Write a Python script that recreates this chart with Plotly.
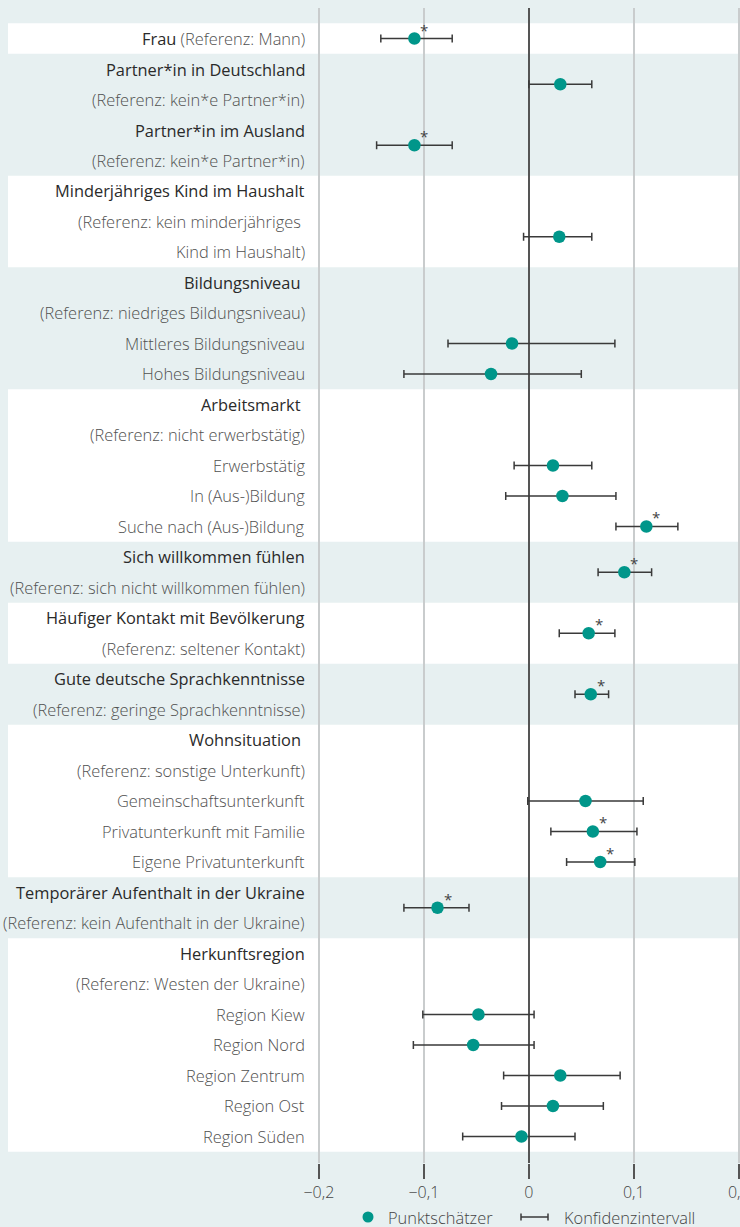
import plotly.graph_objects as go

# row labels, top to bottom; groups alternate white / tinted bands
GROUP_SIZES = [1, 4, 3, 4, 5, 2, 2, 2, 5, 2, 7]
ROW_LABELS = [
    'Frau', 'Partner*in in Deutschland', '(Referenz: kein*e Partner*in)',
    'Partner*in im Ausland', '(Referenz: kein*e Partner*in)',
    'Minderjähriges Kind im Haushalt', '(Referenz: kein minderjähriges\u00a0', 'Kind im Haushalt)',
    'Bildungsniveau\u00a0', '(Referenz: niedriges Bildungsniveau)', 'Mittleres Bildungsniveau', 'Hohes Bildungsniveau',
    'Arbeitsmarkt\u00a0', '(Referenz: nicht erwerbstätig)', 'Erwerbstätig', 'In (Aus-)Bildung', 'Suche nach (Aus-)Bildung',
    'Sich willkommen fühlen', '(Referenz: sich nicht willkommen fühlen)',
    'Häufiger Kontakt mit Bevölkerung', '(Referenz: seltener Kontakt)',
    'Gute deutsche Sprachkenntnisse', '(Referenz: geringe Sprachkenntnisse)',
    'Wohnsituation\u00a0', '(Referenz: sonstige Unterkunft)', 'Gemeinschaftsunterkunft',
    'Privatunterkunft mit Familie', 'Eigene Privatunterkunft',
    'Temporärer Aufenthalt in der Ukraine', '(Referenz: kein Aufenthalt in der Ukraine)',
    'Herkunftsregion', '(Referenz: Westen der Ukraine)', 'Region Kiew', 'Region Nord',
    'Region Zentrum', 'Region Ost', 'Region Süden',
]
HEADER_ROWS = [0, 1, 3, 5, 8, 12, 17, 19, 21, 23, 28, 30]
FRAU_SUFFIX = '(Referenz: Mann)'

# estimates: label rows each one belongs to
EST_ROWS = [(0,), (1, 2), (3, 4), (6, 7), (10,), (11,), (14,), (15,), (16,),
            (17, 18), (19, 20), (21, 22), (25,), (26,), (27,), (28, 29),
            (32,), (33,), (34,), (35,), (36,)]
COEF = [-0.109, 0.030, -0.109, 0.029, -0.016, -0.036, 0.023, 0.032, 0.112,
        0.091, 0.057, 0.059, 0.054, 0.061, 0.068, -0.087,
        -0.048, -0.053, 0.030, 0.023, -0.007]
CI_LOW = [-0.141, 0.000, -0.145, -0.005, -0.077, -0.119, -0.014, -0.022, 0.083,
          0.066, 0.029, 0.044, -0.001, 0.021, 0.036, -0.119,
          -0.101, -0.110, -0.024, -0.026, -0.063]
CI_HIGH = [-0.073, 0.060, -0.073, 0.060, 0.082, 0.050, 0.060, 0.083, 0.142,
           0.117, 0.082, 0.076, 0.109, 0.103, 0.101, -0.057,
           0.005, 0.005, 0.087, 0.071, 0.044]
SIGNIF = [1, 0, 1, 0, 0, 0, 0, 0, 1, 1, 1, 1, 0, 1, 1, 1, 0, 0, 0, 0, 0]

TICK_VALS = [-0.2, -0.1, 0, 0.1, 0.2]
LEGEND_POINT = 'Punktschätzer'
LEGEND_CI = 'Konfidenzintervall'

BG = '#e7f0f1'
TEAL = '#00968a'
DARK = '#2a2a2a'
GREY = '#505050'
FONT = 'Open Sans'
FS = 16.4

y_est = [sum(r) / len(r) for r in EST_ROWS]

fig = go.Figure()
fig.add_trace(go.Scatter(
    x=COEF, y=y_est, mode='markers',
    marker=dict(color=TEAL, size=12.5),
    error_x=dict(type='data', symmetric=False,
                 array=[h - c for h, c in zip(CI_HIGH, COEF)],
                 arrayminus=[c - l for c, l in zip(COEF, CI_LOW)],
                 color='#3a3a3a', thickness=1.5, width=4),
    showlegend=False, hoverinfo='skip',
))

shapes = []
start = 0
for i, n in enumerate(GROUP_SIZES):
    if i % 2 == 0:
        shapes.append(dict(type='rect', xref='paper', yref='y', x0=0, x1=1,
                           y0=start - 0.5, y1=start + n - 0.5,
                           fillcolor='white', line=dict(width=0), layer='below'))
    start += n

annotations = []
for i, lab in enumerate(ROW_LABELS):
    header = i in HEADER_ROWS
    text = lab
    if i == 0:
        text = f'{lab} <span style="color:{GREY};font-weight:300">{FRAU_SUFFIX}</span>'
    annotations.append(dict(x=-0.2115, y=i, xref='x', yref='y', text=text,
                            showarrow=False, xanchor='right', yanchor='middle',
                            font=dict(family=FONT, size=FS, color=DARK if header else GREY,
                                      weight=400 if header else 300)))

for c, y, s in zip(COEF, y_est, SIGNIF):
    if s:
        annotations.append(dict(x=c, y=y, xref='x', yref='y', text='*',
                                showarrow=False, xshift=10, yshift=9,
                                font=dict(family=FONT, size=15, color='#444444')))

# legend drawn by hand
def px_x(px):
    return (px - 8) / 732

def px_y(py):
    return (1163 - py) / 1155

ly = px_y(1217)
shapes.append(dict(type='circle', xref='paper', yref='paper', xsizemode='pixel', ysizemode='pixel',
                   xanchor=px_x(368), yanchor=ly, x0=-5.5, x1=5.5, y0=-5.5, y1=5.5,
                   fillcolor=TEAL, line=dict(width=0)))
shapes.append(dict(type='line', xref='paper', yref='paper', x0=px_x(521), x1=px_x(548), y0=ly, y1=ly,
                   line=dict(color='#3a3a3a', width=1.5)))
for xc in (521, 548):
    shapes.append(dict(type='line', xref='paper', yref='paper', ysizemode='pixel', yanchor=ly,
                       x0=px_x(xc), x1=px_x(xc), y0=-3.5, y1=3.5,
                       line=dict(color='#3a3a3a', width=1.5)))
annotations.append(dict(x=px_x(386), y=ly, xref='paper', yref='paper', text=LEGEND_POINT,
                        showarrow=False, xanchor='left', yanchor='middle',
                        font=dict(family=FONT, size=FS, color='#444444', weight=300)))
annotations.append(dict(x=px_x(562), y=ly, xref='paper', yref='paper', text=LEGEND_CI,
                        showarrow=False, xanchor='left', yanchor='middle',
                        font=dict(family=FONT, size=FS, color='#444444', weight=300)))

fig.update_layout(
    width=740, height=1227,
    margin=dict(l=8, r=0, t=8, b=64, autoexpand=False),
    paper_bgcolor=BG, plot_bgcolor='rgba(0,0,0,0)',
    separators=',.',
    shapes=shapes, annotations=annotations,
    xaxis=dict(range=[-0.4962, 0.2012], tickvals=TICK_VALS, showgrid=True,
               gridcolor='#c9cccd', gridwidth=1.5, zeroline=True, zerolinecolor='#555555',
               zerolinewidth=1.5, ticks='outside', ticklen=15, tickwidth=1.5, tickcolor='#555555',
               tickfont=dict(family=FONT, size=16, color='#444444', weight=300),
               ticklabeloverflow='allow', automargin=False, showline=False, fixedrange=True),
    yaxis=dict(range=[36.87, -1.0], visible=False, showgrid=False, zeroline=False),
)

fig.write_html('out.html', config={'displayModeBar': False}, post_script=(
    "document.body.style.margin='0';"
    "document.body.style.background='" + BG + "';"
))
